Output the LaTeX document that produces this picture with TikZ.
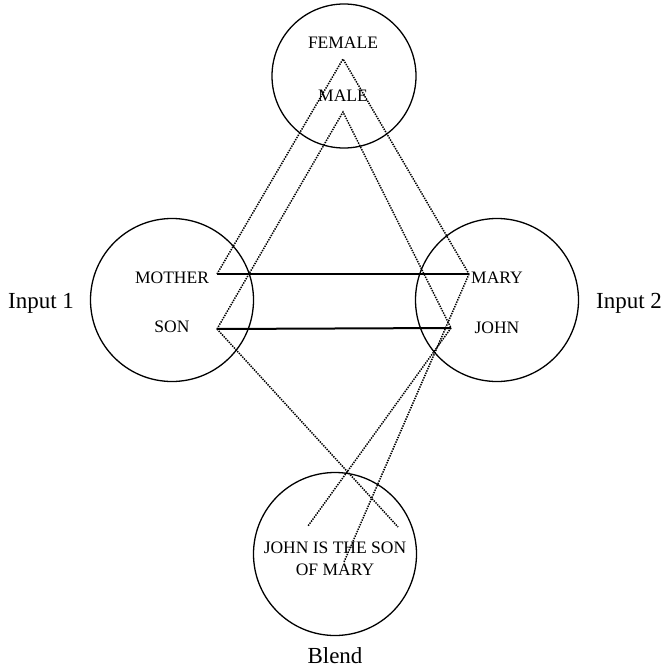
\documentclass[tikz,border=0pt]{standalone}
\usepackage{fontspec}
\setmainfont{Liberation Serif}
\begin{document}
\begin{tikzpicture}[x=1pt,y=-1pt,
  space/.style={draw,circle,line width=1.3pt,inner sep=0pt},
  word/.style={font=\fontsize{17.5}{22}\selectfont,inner sep=0pt},
  lbl/.style={font=\fontsize{23}{26}\selectfont,inner sep=0pt},
  link/.style={line width=2pt},
  proj/.style={dash pattern=on 1.4pt off 1.1pt,line width=1.5pt}]
\useasboundingbox (0,0) rectangle (667,669);
% spaces
\node[space,minimum size=144pt] (generic) at (344,76) {};
\node[space,minimum size=163pt] (in1) at (172,300) {};
\node[space,minimum size=163pt] (in2) at (497,300) {};
\node[space,minimum size=163pt] (blend) at (335,554) {};
% texts
\node[word] (female) at (343,43) {FEMALE};
\node[word] (male) at (343,96) {MALE};
\node[word] (mother) at (172,278) {MOTHER};
\node[word] (son) at (172,327) {SON};
\node[word] (mary) at (497,278) {MARY};
\node[word] (john) at (497,328) {JOHN};
\node[word,align=center] (bt) at (335,559) {JOHN IS THE SON\\OF MARY};
\node[lbl] (l1) at (41,303) {Input 1};
\node[lbl] (l2) at (629,303) {Input 2};
\node[lbl] (lb) at (335,656) {Blend};
% anchor points
\coordinate (fa) at (343,59);
\coordinate (ma) at (343,112);
\coordinate (mo) at (217,274);
\coordinate (so) at (217,329);
\coordinate (mr) at (469,274);
\coordinate (jo) at (451,328);
\coordinate (b1) at (398,527);
\coordinate (b2) at (308,526);
\coordinate (b3) at (344,562);
% cross-space links
\draw[link] (mo) -- (mr);
\draw[link] (so) -- (jo);
% projections
\draw[proj] (mo) -- (fa) -- (mr);
\draw[proj] (so) -- (ma) -- (jo);
\draw[proj] (so) -- (b1);
\draw[proj] (jo) -- (b2);
\draw[proj] (mr) -- (b3);
\end{tikzpicture}
\end{document}
